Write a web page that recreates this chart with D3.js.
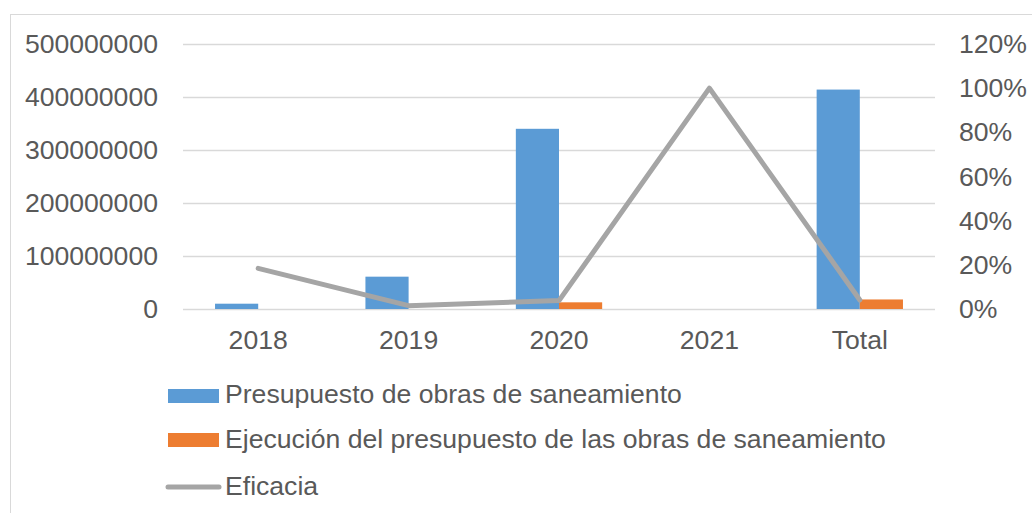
<!DOCTYPE html>
<html>
<head>
<meta charset="utf-8">
<script src="https://cdn.jsdelivr.net/npm/d3@7"></script>
<style>
  body { margin: 0; background: #fff; }
  text { font-family: "Liberation Sans", Arial, sans-serif; fill: #595959; }
</style>
</head>
<body>
<svg id="chart" width="1032" height="513"></svg>
<script>
var categories = ["2018", "2019", "2020", "2021", "Total"];
var presupuesto = [10000000, 61000000, 340000000, 0, 414000000];
var ejecucion = [0, 0, 12600000, 0, 18000000];
var eficacia = [0.184, 0.015, 0.038, 1.0, 0.041];
var leftTicks = [0, 100000000, 200000000, 300000000, 400000000, 500000000];
var rightTicks = [0, 0.2, 0.4, 0.6, 0.8, 1.0, 1.2];
var seriesNames = ["Presupuesto de obras de saneamiento",
                   "Ejecución del presupuesto de las obras de saneamiento",
                   "Eficacia"];

var svg = d3.select("#chart");
var plot = { left: 183, right: 935, top: 44, bottom: 309 };
var fontSize = "26.6px";

// chart frame
svg.append("rect")
  .attr("x", 10.5).attr("y", 14.5)
  .attr("width", 1030).attr("height", 520)
  .attr("fill", "none").attr("stroke", "#d9d9d9").attr("stroke-width", 1);

var x = d3.scaleBand().domain(categories).range([plot.left, plot.right]);
var y = d3.scaleLinear().domain([0, 500000000]).range([plot.bottom, plot.top]);
var y2 = d3.scaleLinear().domain([0, 1.2]).range([plot.bottom, plot.top]);

var barW = x.bandwidth() * 0.287;

// gridlines
svg.append("g").selectAll("line").data(leftTicks).enter().append("line")
  .attr("x1", plot.left).attr("x2", plot.right)
  .attr("y1", function (d) { return Math.round(y(d)) + 0.5; })
  .attr("y2", function (d) { return Math.round(y(d)) + 0.5; })
  .attr("stroke", "#d9d9d9").attr("stroke-width", 1.5);

function styleAxis(g) {
  g.select(".domain").remove();
  g.selectAll("text").style("font-size", fontSize).attr("fill", "#595959")
    .attr("font-family", "Liberation Sans, Arial, sans-serif");
}

// left axis
var yAxis = d3.axisLeft(y).tickValues(leftTicks).tickSize(0).tickPadding(25)
  .tickFormat(d3.format("d"));
svg.append("g").attr("transform", "translate(" + plot.left + ",0)").call(yAxis).call(styleAxis);

// right axis
var yAxis2 = d3.axisRight(y2).tickValues(rightTicks).tickSize(0).tickPadding(24)
  .tickFormat(d3.format(".0%"));
svg.append("g").attr("transform", "translate(" + plot.right + ",0)").call(yAxis2).call(styleAxis);

// x axis
var xAxis = d3.axisBottom(x).tickSize(0).tickPadding(21.5);
svg.append("g").attr("transform", "translate(0," + plot.bottom + ")").call(xAxis).call(styleAxis);

// bars
var mid = function (d) { return x(d) + x.bandwidth() / 2; };
svg.append("g").selectAll("rect").data(categories).enter().append("rect")
  .attr("x", function (d) { return mid(d) - barW; })
  .attr("y", function (d, i) { return y(presupuesto[i]); })
  .attr("width", barW)
  .attr("height", function (d, i) { return y(0) - y(presupuesto[i]); })
  .attr("fill", "#5b9bd5");

svg.append("g").selectAll("rect").data(categories).enter().append("rect")
  .attr("x", function (d) { return mid(d); })
  .attr("y", function (d, i) { return y(ejecucion[i]); })
  .attr("width", barW)
  .attr("height", function (d, i) { return y(0) - y(ejecucion[i]); })
  .attr("fill", "#ed7d31");

// line
var line = d3.line()
  .x(function (d, i) { return mid(categories[i]); })
  .y(function (d) { return y2(d); });
svg.append("path").datum(eficacia)
  .attr("d", line)
  .attr("fill", "none").attr("stroke", "#a5a5a5")
  .attr("stroke-width", 5).attr("stroke-linecap", "round").attr("stroke-linejoin", "round");

// legend
var leg = svg.append("g");
leg.append("rect").attr("x", 168).attr("y", 389).attr("width", 51).attr("height", 14).attr("fill", "#5b9bd5");
leg.append("rect").attr("x", 168).attr("y", 433).attr("width", 51).attr("height", 14).attr("fill", "#ed7d31");
leg.append("line").attr("x1", 168).attr("x2", 219).attr("y1", 487).attr("y2", 487)
  .attr("stroke", "#a5a5a5").attr("stroke-width", 5).attr("stroke-linecap", "round");
var legBase = [403, 448, 495];
leg.selectAll("text").data(seriesNames).enter().append("text")
  .attr("x", 225)
  .attr("y", function (d, i) { return legBase[i]; })
  .style("font-size", fontSize)
  .text(function (d) { return d; });
</script>
</body>
</html>
